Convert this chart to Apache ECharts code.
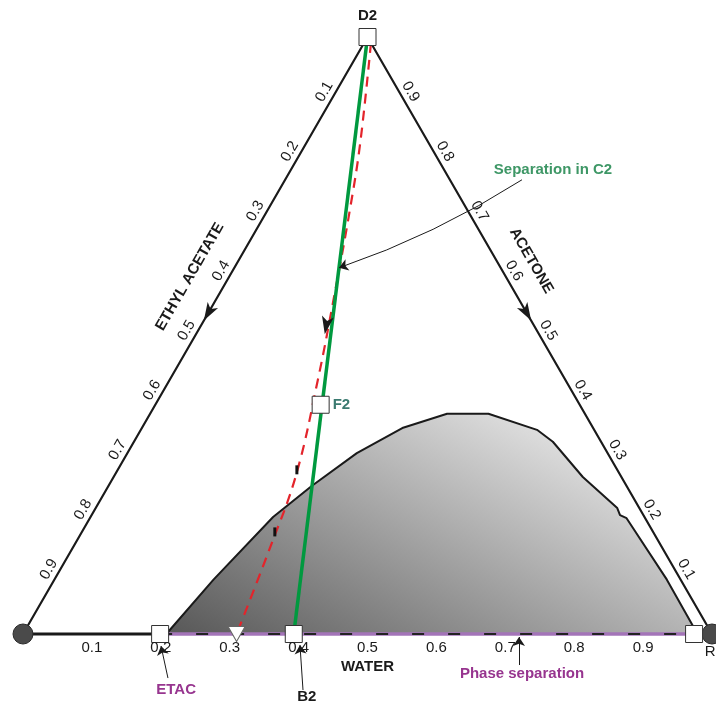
<!DOCTYPE html>
<html><head><meta charset="utf-8">
<script src="https://cdn.jsdelivr.net/npm/echarts@6/dist/echarts.min.js"></script>
<style>html,body{margin:0;padding:0;background:#fff}#c{width:716px;height:704px}</style>
</head><body><div id="c"></div>
<script>
const H = Math.sqrt(3) / 2;
// Compositions as mass fractions: acetone and water (ethyl acetate = 1 - acetone - water)
const binodalAcetone = [0, 0.091, 0.196, 0.248, 0.303, 0.345, 0.369, 0.369, 0.342, 0.322, 0.263, 0.211, 0.199, 0.194, 0.091, 0.012, 0];
const binodalWater   = [0.208, 0.231, 0.265, 0.295, 0.333, 0.378, 0.431, 0.491, 0.575, 0.608, 0.681, 0.757, 0.767, 0.779, 0.889, 0.967, 0.978];
const redAcetone = [0.99, 0.823, 0.711, 0.571, 0.426, 0.267, 0.146, 0];
const redWater   = [0.01, 0.078, 0.119, 0.167, 0.215, 0.263, 0.286, 0.31];
const pointNames   = ['D2', 'F2', 'B2', 'ETAC', 'R'];
const pointAcetone = [1, 0.384, 0, 0, 0];
const pointWater   = [0, 0.240, 0.393, 0.199, 0.974];
const triangleAcetone = [0];
const triangleWater   = [0.31];
const tickMarkAcetone = [0.275, 0.171];
const tickMarkWater   = [0.260, 0.280];
const arrowAcetone = [0.525, 0.525, 0.502];
const arrowWater   = [0, 0.475, 0.187];
const arrowRotate  = [150, 210, 170];
const tickValues = [0.1, 0.2, 0.3, 0.4, 0.5, 0.6, 0.7, 0.8, 0.9];
const tickLabels = ['0.1', '0.2', '0.3', '0.4', '0.5', '0.6', '0.7', '0.8', '0.9'];
// annotation arrows in diagram units (x along base, y height, base length = 1)
const annFrom = [[0.7242, 0.6589], [0.2104, -0.0639], [0.4064, -0.0813], [0.7199, -0.045]];
const annTo   = [[0.4586, 0.5312], [0.2003, -0.0174], [0.402, -0.016], [0.7199, -0.0044]];
const annCurve = [0.06, 0, 0, 0];

function tern(a, w) { return [w + a / 2, a * H]; }
const zip = (A, W) => A.map((a, i) => tern(a, W[i]));

const FONT = '"Liberation Sans", Arial, sans-serif';
const chart = echarts.init(document.getElementById('c'), null, { renderer: 'canvas' });

const pts = zip(pointAcetone, pointWater);
const series = [
  { type: 'line', z: 1, data: zip(binodalAcetone, binodalWater), symbol: 'none', clip: false,
    lineStyle: { color: '#1a1a1a', width: 2 },
    areaStyle: { origin: 'start', opacity: 1,
      color: { type: 'linear', global: true, x: 166, y: 634, x2: 331, y2: 322,
        colorStops: [{ offset: 0, color: '#575757' }, { offset: 1, color: '#dcdcdc' }] } } },
  { type: 'line', z: 2, data: [tern(0, 0), tern(1, 0), tern(0, 1)], symbol: 'none', clip: false,
    lineStyle: { color: '#1a1a1a', width: 2.2 } },
  { type: 'line', z: 2, data: [tern(0, 0), pts[3]], symbol: 'none', clip: false,
    lineStyle: { color: '#1a1a1a', width: 3 } },
  { type: 'line', z: 3, data: [pts[3], pts[4]], symbol: 'none', clip: false,
    lineStyle: { color: '#a374b8', width: 3.5 } },
  { type: 'line', z: 4, data: [pts[3], pts[4]], symbol: 'none', clip: false,
    lineStyle: { color: '#222', width: 2.2, type: [12, 24] } },
  { type: 'line', z: 5, data: zip(redAcetone, redWater), symbol: 'none', smooth: 0.4, clip: false,
    lineStyle: { color: '#e3242b', width: 2.2, type: [10, 7] } },
  { type: 'line', z: 6, data: [pts[0], pts[2]], symbol: 'none', clip: false,
    lineStyle: { color: '#00993f', width: 3.5 } },
  { type: 'lines', coordinateSystem: 'cartesian2d', z: 7, clip: false, symbol: ['none', 'arrow'], symbolSize: 9,
    data: annFrom.map((f, i) => ({ coords: [f, annTo[i]], lineStyle: { curveness: annCurve[i] } })),
    lineStyle: { color: '#1a1a1a', width: 1, opacity: 1 } },
  { type: 'scatter', z: 8, clip: false, symbol: 'rect', symbolSize: [3, 9], data: zip(tickMarkAcetone, tickMarkWater),
    itemStyle: { color: '#111', opacity: 1 } },
  { type: 'scatter', z: 8, clip: false, symbol: 'arrow', symbolSize: [9, 18],
    data: zip(arrowAcetone, arrowWater).map((p, i) => ({ value: p, symbolRotate: arrowRotate[i] })),
    itemStyle: { color: '#1a1a1a', opacity: 1 } },
  { type: 'scatter', z: 9, clip: false, symbol: 'circle', symbolSize: 20, data: [tern(0, 0), tern(0, 1)],
    itemStyle: { color: '#4a4a4a', borderColor: '#2a2a2a', borderWidth: 1, opacity: 1 } },
  { type: 'scatter', z: 10, clip: false, symbol: 'rect', symbolSize: 17, data: pts,
    itemStyle: { color: '#ffffff', borderColor: '#333', borderWidth: 1, opacity: 1 } },
  { type: 'scatter', z: 10, clip: false, symbol: 'triangle', symbolRotate: 180, symbolSize: [17, 15],
    data: zip(triangleAcetone, triangleWater),
    itemStyle: { color: '#ffffff', borderColor: '#666', borderWidth: 1, opacity: 1 } }
];

chart.setOption({
  animation: false,
  grid: { left: 23, top: 37, width: 689, height: 597, show: false },
  xAxis: { type: 'value', min: 0, max: 1, show: false },
  yAxis: { type: 'value', min: 0, max: H, show: false },
  series: series
});

const px = p => chart.convertToPixel({ gridIndex: 0 }, p);
function txt(x, y, text, opt) {
  opt = opt || {};
  return { type: 'text', x: x, y: y, rotation: opt.rot || 0, z: 20,
    style: { text: text, fill: opt.color || '#1a1a1a', fontSize: opt.size || 15,
      fontWeight: opt.bold ? 'bold' : 'normal', fontFamily: FONT,
      align: opt.align || 'center', textAlign: opt.align || 'center',
      verticalAlign: 'middle', textVerticalAlign: 'middle' } };
}
const g = [];
const nL = [-Math.cos(Math.PI / 6), -0.5], nR = [Math.cos(Math.PI / 6), -0.5];
tickValues.forEach((v, i) => {
  const l = px(tern(1 - v, 0));
  g.push(txt(l[0] + nL[0] * 10, l[1] + nL[1] * 10, tickLabels[i], { rot: Math.PI / 3 }));
  const r = px(tern(v, 1 - v));
  g.push(txt(r[0] + nR[0] * 10, r[1] + nR[1] * 10, tickLabels[i], { rot: -Math.PI / 3 }));
  const b = px(tern(0, v));
  g.push(txt(b[0], b[1] + 14, tickLabels[i]));
});
const tl = px(tern(1 - 0.43, 0));
g.push(txt(tl[0] + nL[0] * 34, tl[1] + nL[1] * 34, 'ETHYL ACETATE', { rot: Math.PI / 3, bold: true }));
const tr = px(tern(0.60, 0.40));
g.push(txt(tr[0] + nR[0] * 30, tr[1] + nR[1] * 30, 'ACETONE', { rot: -Math.PI / 3, bold: true }));
const tb = px(tern(0, 0.5));
g.push(txt(tb[0], tb[1] + 33, 'WATER', { bold: true }));
const d2 = px(pts[0]);
g.push(txt(d2[0], d2[1] - 21, 'D2', { bold: true }));
const f2 = px(pts[1]);
g.push(txt(f2[0] + 12, f2[1], 'F2', { bold: true, align: 'left', color: '#3a7a70' }));
const b2 = px(pts[2]);
g.push(txt(b2[0] + 13, b2[1] + 63, 'B2', { bold: true }));
const et = px(pts[3]);
g.push(txt(et[0] + 16, et[1] + 56, 'ETAC', { bold: true, color: '#97358f' }));
const rr = px(pts[4]);
g.push(txt(rr[0] + 16, rr[1] + 18, 'R', {}));
const ps = px(annFrom[3]);
g.push(txt(ps[0] + 3, ps[1] + 9, 'Phase separation', { bold: true, color: '#97358f' }));
const c2 = px(annFrom[0]);
g.push(txt(c2[0] + 31, c2[1] - 10, 'Separation in C2', { bold: true, color: '#3e9766' }));

chart.setOption({ graphic: g });
</script>
</body></html>
